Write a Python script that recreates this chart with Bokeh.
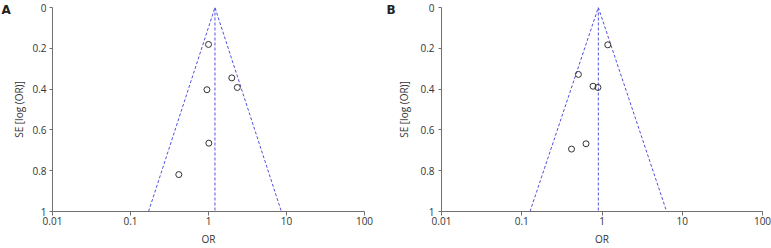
import math
from bokeh.plotting import figure
from bokeh.layouts import row
from bokeh.models import Range1d, FixedTicker, Label
from bokeh.embed import file_html
from bokeh.resources import INLINE

# ---- data ----
panel_labels = ["A", "B"]
a_or = [1.00, 1.99, 2.34, 0.955, 1.01, 0.416]
a_se = [0.181, 0.345, 0.392, 0.403, 0.665, 0.819]
a_pooled = 1.21
b_or = [1.18, 0.508, 0.773, 0.89, 0.632, 0.417]
b_se = [0.183, 0.328, 0.386, 0.392, 0.668, 0.694]
b_pooled = 0.90
x_ticks = [0.01, 0.1, 1, 10, 100]
x_tick_labels = ["0.01", "0.1", "1", "10", "100"]
y_ticks = [0, 0.2, 0.4, 0.6, 0.8, 1]
y_tick_labels = ["0", "0.2", "0.4", "0.6", "0.8", "1"]
se_span = [0, 1]
x_title = "OR"
y_title = "SE [log (OR)]"

FONT = "Open Sans"
AXIS_COL = "#707070"
TEXT_COL = "#333333"
LINE_COL = "#5050e0"


def make_panel(label, ors, ses, pooled, width, left, tick_standoff, ylab_standoff):
    frame_w = 321
    p = figure(width=width, height=248, x_axis_type="log",
               x_range=Range1d(x_ticks[0], x_ticks[-1]),
               y_range=Range1d(se_span[1], se_span[0]),
               output_backend="svg", toolbar_location=None,
               min_border_left=left, min_border_right=width - left - frame_w,
               min_border_top=7, min_border_bottom=37)
    p.outline_line_color = None
    p.xgrid.grid_line_color = None
    p.ygrid.grid_line_color = None
    p.background_fill_color = "white"
    p.border_fill_color = "white"

    # funnel (pseudo 95% CI limits) and pooled estimate
    z = 1.96
    lo = pooled * math.exp(-z * se_span[1])
    hi = pooled * math.exp(z * se_span[1])
    p.line([lo, pooled, hi], [se_span[1], se_span[0], se_span[1]],
           line_color=LINE_COL, line_width=1, line_dash="3 2")
    p.line([pooled, pooled], se_span, line_color=LINE_COL,
           line_width=1, line_dash="3 2")

    p.scatter(ors, ses, marker="circle", size=6, fill_color=None,
              line_color=TEXT_COL, line_width=1)

    xa = p.xaxis[0]
    xa.ticker = FixedTicker(ticks=x_ticks, minor_ticks=[])
    xa.major_label_overrides = {t: s for t, s in zip(x_ticks, x_tick_labels)}
    xa.axis_label = x_title
    ya = p.yaxis[0]
    ya.ticker = FixedTicker(ticks=y_ticks, minor_ticks=[])
    ya.major_label_overrides = {t: s for t, s in zip(y_ticks, y_tick_labels)}
    ya.axis_label = y_title

    for ax in (xa, ya):
        ax.axis_line_color = AXIS_COL
        ax.major_tick_line_color = AXIS_COL
        ax.minor_tick_line_color = None
        ax.major_tick_in = 0
        ax.major_label_text_font = FONT
        ax.major_label_text_font_size = "10px"
        ax.major_label_text_color = TEXT_COL
        ax.axis_label_text_font = FONT
        ax.axis_label_text_font_size = "10px"
        ax.axis_label_text_font_style = "normal"
        ax.axis_label_text_color = TEXT_COL
    xa.major_tick_out = 4
    xa.major_label_standoff = 1
    xa.axis_label_standoff = 4
    ya.major_tick_out = 3
    ya.major_label_standoff = tick_standoff
    ya.axis_label_standoff = ylab_standoff

    # panel letter, placed in the left side panel (not clipped by the frame)
    p.add_layout(Label(x=1, y=209, x_units="screen", y_units="screen",
                       text=label, text_font="DejaVu Sans",
                       text_font_style="bold", text_font_size="12px",
                       text_color="#222222", text_baseline="top",
                       text_align="left"), "left")
    return p


pa = make_panel(panel_labels[0], a_or, a_se, a_pooled, 385, 43, 3, 3)
pb = make_panel(panel_labels[1], b_or, b_se, b_pooled, 386, 56, 4, 6)

layout = row(pa, pb)
open("out.html", "w").write(file_html(layout, INLINE))
